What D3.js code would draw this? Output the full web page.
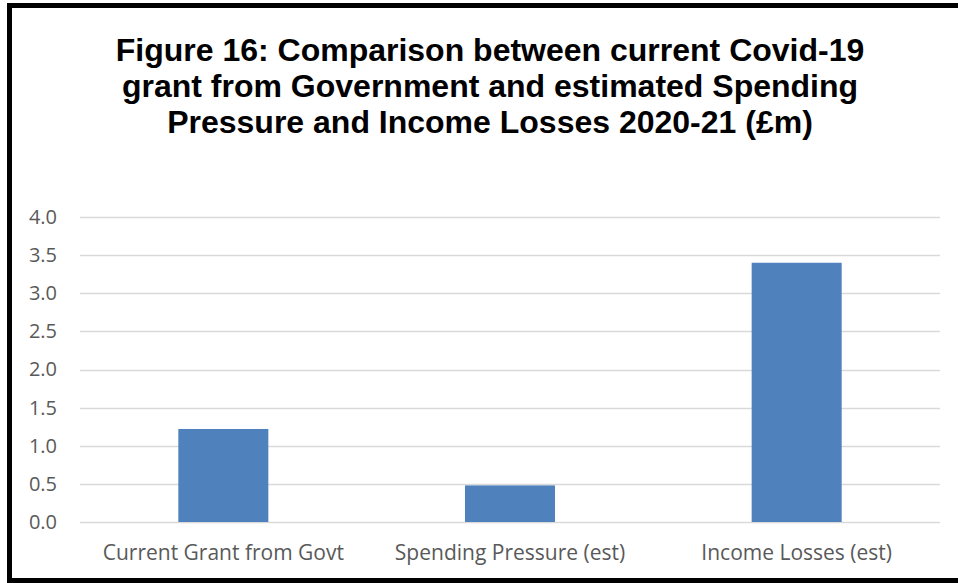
<!DOCTYPE html>
<html>
<head>
<meta charset="utf-8">
<script src="https://cdn.jsdelivr.net/npm/d3@7"></script>
<style>
  html, body { margin: 0; padding: 0; background: #fff; }
  svg { display: block; }
</style>
</head>
<body>
<svg id="chart" width="958" height="583"></svg>
<script>
// Chart data
const categories = ["Current Grant from Govt", "Spending Pressure (est)", "Income Losses (est)"];
const values = [1.22, 0.48, 3.40];
const yTicks = [0, 0.5, 1.0, 1.5, 2.0, 2.5, 3.0, 3.5, 4.0];
const titleLines = [
  "Figure 16: Comparison between current Covid-19",
  "grant from Government and estimated Spending",
  "Pressure and Income Losses 2020-21 (£m)"
];

const svg = d3.select("#chart");
const W = 958, H = 583;

// Outer frame (right edge runs off the canvas)
svg.append("rect")
  .attr("x", 9.5).attr("y", 5.5)
  .attr("width", W + 20).attr("height", 575)
  .attr("fill", "#fff")
  .attr("stroke", "#000")
  .attr("stroke-width", 5);

// Title
svg.append("g")
  .selectAll("text")
  .data(titleLines)
  .join("text")
  .attr("x", 490)
  .attr("y", (d, i) => 61 + i * 36)
  .attr("text-anchor", "middle")
  .attr("font-family", "Liberation Sans, Arial, sans-serif")
  .attr("font-weight", "bold")
  .attr("font-size", 32)
  .attr("fill", "#000")
  .text(d => d);

const plot = { left: 80, right: 940, top: 217, bottom: 522 };

const x = d3.scaleBand()
  .domain(categories)
  .range([plot.left, plot.right])
  .paddingInner(0.686)
  .paddingOuter(0.343);

const y = d3.scaleLinear()
  .domain([0, 4])
  .range([plot.bottom, plot.top]);

// Gridlines
svg.append("g")
  .selectAll("line")
  .data(yTicks)
  .join("line")
  .attr("x1", plot.left).attr("x2", plot.right)
  .attr("y1", d => Math.round(y(d)) + 0.5)
  .attr("y2", d => Math.round(y(d)) + 0.5)
  .attr("stroke", "#D9D9D9")
  .attr("stroke-width", 1.5);

// Y axis labels
const yAxis = d3.axisLeft(y)
  .tickValues(yTicks)
  .tickFormat(d3.format(".1f"))
  .tickSize(0)
  .tickPadding(0);
const gy = svg.append("g")
  .attr("transform", `translate(57,0)`)
  .call(yAxis);
gy.select(".domain").remove();
gy.selectAll("text")
  .attr("font-family", "Open Sans, sans-serif")
  .attr("font-size", 20)
  .attr("fill", "#595959");

// Bars
svg.append("g")
  .selectAll("rect")
  .data(values)
  .join("rect")
  .attr("x", (d, i) => x(categories[i]))
  .attr("y", d => y(d))
  .attr("width", x.bandwidth())
  .attr("height", d => y(0) - y(d))
  .attr("fill", "#4F81BD");

// X axis labels
const xAxis = d3.axisBottom(x).tickSize(0).tickPadding(0);
const gx = svg.append("g")
  .attr("transform", `translate(0,${plot.bottom + 23})`)
  .call(xAxis);
gx.select(".domain").remove();
gx.selectAll("text")
  .attr("dy", "0.71em")
  .attr("font-family", "Open Sans, sans-serif")
  .attr("font-size", 21)
  .attr("fill", "#595959");
</script>
</body>
</html>
